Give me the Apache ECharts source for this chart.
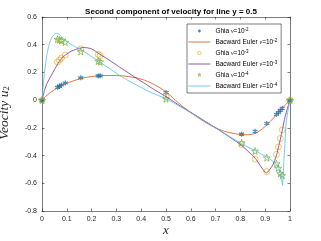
<!DOCTYPE html>
<html><head><meta charset="utf-8">
<script src="https://cdn.jsdelivr.net/npm/echarts@6/dist/echarts.min.js"></script>
<style>html,body{margin:0;padding:0;background:#fff}#c{width:321px;height:241px}</style>
</head><body><div id="c"></div>
<script>
// Ghia et al. reference data (x positions along y = 0.5)
const ghiaX = [1.0, 0.9688, 0.9609, 0.9531, 0.9453, 0.9063, 0.8594, 0.8047, 0.5, 0.2344, 0.2266, 0.1563, 0.0938, 0.0781, 0.0703, 0.0625, 0.0];
const ghia2 = [0.0, -0.05906, -0.07391, -0.08864, -0.10313, -0.16914, -0.22445, -0.24533, 0.05454, 0.17527, 0.17507, 0.16077, 0.12317, 0.10890, 0.10091, 0.09233, 0.0];
const ghia3 = [0.0, -0.21388, -0.27669, -0.33714, -0.39188, -0.51550, -0.42665, -0.31966, 0.02526, 0.32235, 0.33075, 0.37095, 0.32627, 0.30353, 0.29012, 0.27485, 0.0];
const ghia4 = [0.0, -0.54302, -0.52987, -0.49099, -0.45863, -0.41496, -0.36737, -0.30719, 0.00999, 0.27669, 0.28188, 0.35071, 0.41824, 0.43048, 0.43564, 0.43983, 0.0];

// Backward Euler curves
const be2X = [0,0.02,0.05,0.08,0.12,0.16,0.2,0.25,0.3,0.35,0.4,0.45,0.5,0.55,0.6,0.65,0.7,0.75,0.8,0.83,0.86,0.89,0.92,0.95,0.97,1];
const be2Y = [0,0.035,0.075,0.105,0.135,0.158,0.17,0.178,0.178,0.17,0.152,0.115,0.06,-0.02,-0.09,-0.15,-0.2,-0.232,-0.248,-0.25,-0.24,-0.205,-0.155,-0.095,-0.055,0];
const be3X = [0,0.01,0.02,0.035,0.05,0.07,0.09,0.12,0.15,0.17,0.2,0.23,0.27,0.32,0.38,0.44,0.5,0.56,0.62,0.7,0.8,0.86,0.905,0.93,0.945,0.96,0.97,0.98,1];
const be3Y = [0,0.07,0.12,0.17,0.22,0.28,0.32,0.355,0.375,0.38,0.37,0.335,0.29,0.23,0.16,0.09,0.025,-0.045,-0.11,-0.2,-0.32,-0.42,-0.525,-0.47,-0.4,-0.29,-0.21,-0.12,0];
const be4X = [0,0.005,0.01,0.02,0.03,0.04,0.05,0.06,0.07,0.08,0.1,0.13,0.16,0.2,0.23,0.27,0.32,0.38,0.44,0.5,0.6,0.7,0.8,0.86,0.91,0.95,0.965,0.97,0.975,0.98,0.985,1];
const be4Y = [0,0.1,0.2,0.33,0.41,0.455,0.475,0.483,0.475,0.455,0.42,0.39,0.36,0.315,0.28,0.23,0.17,0.11,0.055,0.01,-0.09,-0.2,-0.31,-0.365,-0.415,-0.47,-0.56,-0.615,-0.45,-0.3,-0.15,0];

const xTicks = [0,0.1,0.2,0.3,0.4,0.5,0.6,0.7,0.8,0.9,1];
const yTicks = [-0.8,-0.6,-0.4,-0.2,0,0.2,0.4,0.6];

const zip = (a,b) => a.map((v,i)=>[v,b[i]]);
const C = {blue:'#0072BD', orange:'#D95319', yellow:'#EDB120', purple:'#7E2F8E', green:'#77AC30', cyan:'#4DBEEE'};
const asteriskBody = 'M50,0L50,100M6.7,25L93.3,75M6.7,75L93.3,25';
const starBody = 'M50,0L61,35L98,35L68,57L79,91L50,70L21,91L32,57L2,35L39,35Z';
const circleBody = 'M100,50A50,50 0 1,1 99.99,49Z';
const pad = 'M-35,-35L-35,-35M135,135L135,135';
const padStar = 'M-45,-45L-45,-45M145,145L145,145';
const asterisk = 'path://' + asteriskBody;
const star = 'path://' + starBody;
const axisCol = '#262626';

const names = ['Ghia ν=10-2','Bacward Euler ν=10-2','Ghia ν=10-3','Bacward Euler ν=10-3','Ghia ν=10-4','Bacward Euler ν=10-4'];

const chart = echarts.init(document.getElementById('c'));
const baseX = {type:'value', min:0, max:1, interval:0.1,
  axisLine:{show:true, onZero:false, lineStyle:{color:axisCol, width:0.6}},
  axisTick:{show:true, inside:true, length:2.5, lineStyle:{color:axisCol, width:0.6}},
  splitLine:{show:false}};
const baseY = {type:'value', min:-0.8, max:0.6, interval:0.2,
  axisLine:{show:true, onZero:false, lineStyle:{color:axisCol, width:0.6}},
  axisTick:{show:true, inside:true, length:2.5, lineStyle:{color:axisCol, width:0.6}},
  splitLine:{show:false}};
const lbl = {fontSize:7, color:axisCol, fontFamily:'Liberation Sans, Arial'};
const lineLeg = (n,c) => ({name:n, itemStyle:{opacity:0}, lineStyle:{color:c, width:0.8}});
const symLeg = (n,body,p,c) => ({name:n, icon:'path://' + p + body,
  itemStyle:{color:'rgba(0,0,0,0)', borderColor:c, borderWidth:0.8}});

chart.setOption({
  animation:false,
  backgroundColor:'#fff',
  title:{text:'Second component of velocity for line y = 0.5', left:166, textAlign:'center', top:3,
    textStyle:{fontSize:8, fontWeight:'bold', color:'#000', fontFamily:'Liberation Sans, Arial'}},
  grid:{left:42, right:31, top:17, bottom:30},
  xAxis:[
    Object.assign({}, baseX, {position:'bottom', axisLabel:Object.assign({margin:5, formatter:v=>String(+v.toFixed(1))}, lbl)}),
    Object.assign({}, baseX, {position:'top', axisLabel:{show:false}})
  ],
  yAxis:[
    Object.assign({}, baseY, {position:'left', axisLabel:Object.assign({margin:5, formatter:v=>String(+v.toFixed(1))}, lbl)}),
    Object.assign({}, baseY, {position:'right', axisLabel:{show:false}})
  ],
  legend:{orient:'vertical', left:187, top:24, width:98, backgroundColor:'#fff',
    borderColor:axisCol, borderWidth:0.6, padding:[3,4,3,1], itemWidth:22, itemHeight:6, itemGap:3,
    data:[symLeg(names[0],asteriskBody,pad,C.blue), lineLeg(names[1],C.orange), symLeg(names[2],circleBody,pad,C.yellow),
          lineLeg(names[3],C.purple), symLeg(names[4],starBody,padStar,C.green), lineLeg(names[5],C.cyan)],
    formatter:function(n){
      const m = n.match(/^(.*) ν=10(-\d)$/);
      return '{a|'+m[1]+' }{n|ν}{a|=10}{s|'+m[2]+'}';
    },
    textStyle:{color:'#000', fontSize:6.5, lineHeight:8, fontFamily:'Liberation Sans, Arial',
      rich:{a:{fontSize:6.5, lineHeight:8, fontFamily:'Liberation Sans, Arial', color:'#000'},
            n:{fontSize:6, lineHeight:8, fontStyle:'italic', fontFamily:'Liberation Serif', color:'#000'},
            s:{fontSize:4.5, lineHeight:8, verticalAlign:'top', fontFamily:'Liberation Sans, Arial', color:'#000'}}}
  },
  graphic:[
    {type:'text', x:4, y:113, rotation:Math.PI/2, originX:0, originY:0,
      style:{text:'{v|Veocity }{u|u}{s|2}', align:'center', verticalAlign:'middle',
        rich:{v:{fontSize:13.5, fontStyle:'italic', fontFamily:'Liberation Serif', fill:'#262626'},
              u:{fontSize:13.5, fontStyle:'italic', fontFamily:'Liberation Serif', fill:'#262626'},
              s:{fontSize:8.5, fontFamily:'Liberation Serif', fill:'#262626', verticalAlign:'bottom', padding:[6,0,0,0]}}}},
    {type:'text', x:166, y:231, style:{text:'x', align:'center', verticalAlign:'middle',
      font:'italic 13px "Liberation Serif"', fill:'#262626'}}
  ],
  series:[
    {name:names[0], type:'scatter', data:zip(ghiaX,ghia2), symbol:asterisk, symbolSize:5,
      itemStyle:{color:C.blue, borderColor:C.blue, borderWidth:1.2}},
    {name:names[1], type:'line', data:zip(be2X,be2Y), symbol:'none', smooth:0.3,
      lineStyle:{color:C.orange, width:0.8}, itemStyle:{color:C.orange}},
    {name:names[2], type:'scatter', data:zip(ghiaX,ghia3), symbol:'circle', symbolSize:6,
      itemStyle:{color:'rgba(0,0,0,0)', borderColor:C.yellow, borderWidth:0.9}},
    {name:names[3], type:'line', data:zip(be3X,be3Y), symbol:'none', smooth:0.2,
      lineStyle:{color:C.purple, width:0.8}, itemStyle:{color:C.purple}},
    {name:names[4], type:'scatter', data:zip(ghiaX,ghia4), symbol:star, symbolSize:7,
      itemStyle:{color:'rgba(0,0,0,0)', borderColor:C.green, borderWidth:0.9}},
    {name:names[5], type:'line', data:zip(be4X,be4Y), symbol:'none', smooth:0.15,
      lineStyle:{color:C.cyan, width:0.8}, itemStyle:{color:C.cyan}}
  ]
});
</script></body></html>
